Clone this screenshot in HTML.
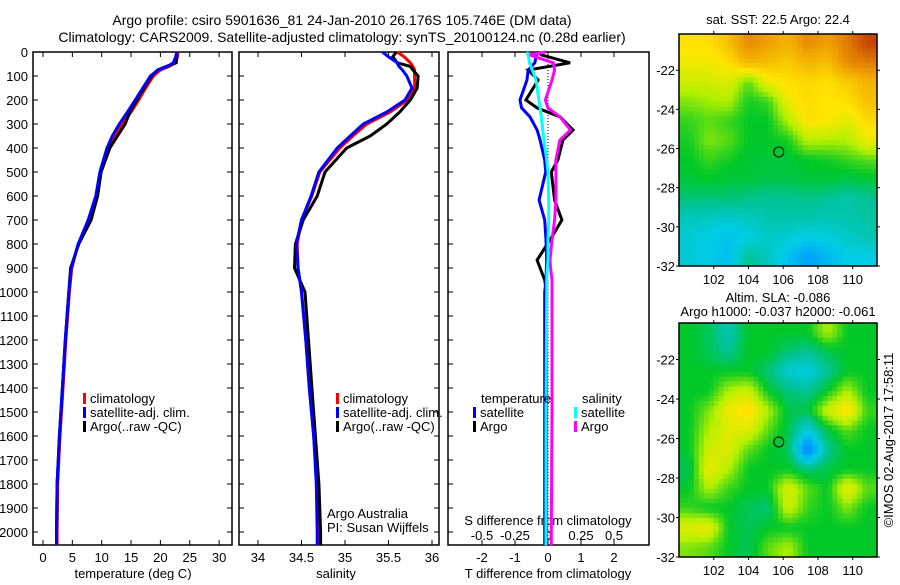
<!DOCTYPE html>
<html><head><meta charset="utf-8"><style>
body{margin:0;background:#fff;font-family:"Liberation Sans",sans-serif}
svg text{font-family:"Liberation Sans",sans-serif;font-size:13px;fill:#000}
</style></head><body>
<svg id="c" width="900" height="580" viewBox="0 0 900 580" xmlns="http://www.w3.org/2000/svg">
<rect width="900" height="580" fill="#fff"/>
<text x="342" y="25" text-anchor="middle" style="font-size:14px">Argo profile: csiro 5901636_81 24-Jan-2010 26.176S 105.746E (DM data)</text>
<text x="342" y="42" text-anchor="middle" style="font-size:14px">Climatology: CARS2009. Satellite-adjusted climatology: synTS_20100124.nc (0.28d earlier)</text>
</svg>
<script>
// ---- data ----
const depths=[0,20,45,60,75,100,150,200,250,300,350,400,500,600,700,800,900,1000,1200,1400,1600,1800,2000,2055];
const tClim=[23,22.9,22.6,21.5,20,18.8,17.5,16.3,15,13.4,12.2,11.1,9.8,9.1,7.8,6,4.9,4.5,3.9,3.4,2.9,2.5,2.4,2.4];
const tSat=[22.8,22.6,22.2,21.2,19.6,18.3,17,15.7,14.4,13,11.8,10.9,9.7,9,7.7,6,4.8,4.4,3.8,3.3,2.8,2.4,2.3,2.3];
const tArgo=[22.8,22.8,22.7,21,19.5,18.5,17.2,16,14.8,14,12.7,11.4,9.9,9.3,8.2,6.1,4.7,4.4,3.8,3.3,2.8,2.4,2.3,2.3];
const sClim=[35.6,35.68,35.75,35.78,35.8,35.8,35.8,35.72,35.52,35.25,35.09,34.94,34.71,34.62,34.5,34.45,34.46,34.5,34.55,34.59,34.64,34.68,34.69,34.7];
const sSat=[35.43,35.5,35.6,35.62,35.66,35.71,35.77,35.69,35.48,35.21,35.06,34.91,34.7,34.61,34.5,34.44,34.46,34.5,34.55,34.59,34.64,34.67,34.68,34.68];
const sArgo=[35.59,35.55,35.6,35.75,35.78,35.84,35.83,35.75,35.63,35.48,35.29,35.02,34.77,34.68,34.52,34.43,34.42,34.54,34.58,34.62,34.66,34.7,34.72,34.72];
const dDepths=[0,12,45,75,117,200,233,270,325,367,450,500,617,700,783,867,900,950,1000,1500,2000,2055];
const dtArgo=[-0.33,-0.2,0.67,-0.6,-0.3,-0.67,-0.33,0.36,0.76,0.45,0.3,0.1,0.2,0.42,0.06,-0.33,-0.24,-0.1,-0.05,-0.05,-0.05,-0.05];
const dtSat=[-0.33,-0.35,-0.4,-0.6,-0.64,-0.85,-0.8,-0.55,-0.33,-0.24,-0.1,-0.07,-0.27,-0.1,-0.06,-0.04,-0.05,-0.06,-0.1,-0.1,-0.1,-0.1];
const dsArgo=[-0.02,-0.14,0.04,0.05,0.03,-0.02,0,0.09,0.17,0.09,0.06,0.06,0.06,0.05,0.03,0.015,0.02,0.03,0.03,0.03,0.025,0.025];
const dsSat=[-0.16,-0.15,-0.14,-0.12,-0.09,-0.07,-0.06,-0.05,-0.04,-0.03,-0.01,0,0.005,0.005,0,0,-0.005,-0.01,-0.01,-0.015,-0.015,-0.015];
const depthTicks=[0,100,200,300,400,500,600,700,800,900,1000,1100,1200,1300,1400,1500,1600,1700,1800,1900,2000];
const tTicks=[0,5,10,15,20,25,30];
const sTicks=[34,34.5,35,35.5,36];
const dtTicks=[-2,-1,0,1,2];
const dsTicks=[-0.5,-0.25,0,0.25,0.5];
const latTicks=[-22,-24,-26,-28,-30,-32];
const lonTicks=[102,104,106,108,110];
const sstGrid=[
[0.65,0.65,0.7,0.78,0.75,0.72,0.78,0.75,0.8,0.88],
[0.62,0.62,0.65,0.72,0.7,0.68,0.72,0.7,0.78,0.8],
[0.58,0.58,0.6,0.5,0.62,0.65,0.66,0.65,0.68,0.72],
[0.52,0.54,0.55,0.46,0.48,0.62,0.66,0.64,0.65,0.7],
[0.48,0.5,0.48,0.45,0.45,0.55,0.65,0.64,0.6,0.66],
[0.46,0.52,0.5,0.45,0.45,0.46,0.56,0.55,0.55,0.62],
[0.45,0.48,0.46,0.44,0.44,0.44,0.45,0.46,0.48,0.5],
[0.44,0.45,0.44,0.44,0.43,0.43,0.44,0.44,0.43,0.44],
[0.4,0.4,0.4,0.39,0.38,0.38,0.39,0.38,0.36,0.38],
[0.34,0.34,0.33,0.34,0.36,0.36,0.36,0.35,0.36,0.37],
[0.32,0.3,0.28,0.3,0.33,0.32,0.3,0.31,0.33,0.35],
[0.32,0.3,0.27,0.38,0.34,0.28,0.22,0.26,0.3,0.3]];
const slaGrid=[
[0.45,0.42,0.35,0.45,0.45,0.45,0.45,0.55,0.45,0.45],
[0.45,0.42,0.38,0.45,0.45,0.4,0.38,0.42,0.45,0.45],
[0.45,0.45,0.45,0.45,0.4,0.32,0.3,0.38,0.45,0.45],
[0.45,0.45,0.55,0.58,0.45,0.4,0.38,0.45,0.55,0.45],
[0.45,0.52,0.62,0.66,0.55,0.43,0.43,0.58,0.66,0.48],
[0.45,0.55,0.6,0.6,0.5,0.43,0.3,0.43,0.5,0.45],
[0.45,0.58,0.6,0.5,0.45,0.42,0.15,0.38,0.45,0.45],
[0.42,0.62,0.55,0.45,0.45,0.45,0.4,0.43,0.45,0.45],
[0.45,0.55,0.48,0.45,0.45,0.6,0.5,0.45,0.62,0.5],
[0.48,0.45,0.45,0.42,0.4,0.58,0.48,0.45,0.52,0.45],
[0.6,0.62,0.45,0.42,0.45,0.45,0.45,0.45,0.45,0.45],
[0.52,0.5,0.45,0.42,0.5,0.55,0.45,0.45,0.45,0.45]];

// ---- helpers ----
const S=document.getElementById('c'),NS='http://www.w3.org/2000/svg';
function el(t,a,p){const e=document.createElementNS(NS,t);for(const k in a)e.setAttribute(k,a[k]);(p||S).appendChild(e);return e;}
function txt(x,y,s,anchor,name){const e=el('text',{x:x,y:y,'text-anchor':anchor||'start'});e.textContent=s;


return e;}
const Y=d=>52+d*0.24;
const PB=545;
function box(x0,x1,y0,y1,name){const r=el('rect',{x:x0,y:y0,width:x1-x0,height:y1-y0,fill:'none',stroke:'#000','stroke-width':1.5});

}
function line(vals,ds,X,col,name){const pts=vals.map((v,i)=>X(v).toFixed(1)+','+Y(ds[i]).toFixed(1)).join(' ');
const p=el('polyline',{points:pts,fill:'none',stroke:col,'stroke-width':3});

}
function xTicks(ticks,X,y,labY,fmt,nm){ticks.forEach(t=>{el('line',{x1:X(t),x2:X(t),y1:y,y2:y-5,stroke:'#000'});el('line',{x1:X(t),x2:X(t),y1:52,y2:57,stroke:'#000'});txt(X(t),labY,fmt?fmt(t):String(t),'middle',nm);});}

// panel 1 temperature
const XT=v=>43+v*5.87;
box(33,232,52,PB,'temperature-panel');
depthTicks.forEach(d=>{el('line',{x1:33,x2:38,y1:Y(d),y2:Y(d),stroke:'#000'});el('line',{x1:232,x2:227,y1:Y(d),y2:Y(d),stroke:'#000'});txt(28,Y(d)+5,String(d),'end','depth-tick-label');});
xTicks(tTicks,XT,PB,562,null,'temperature-tick-label');
txt(133,578,'temperature (deg C)','middle','temperature-axis-title');
line(tClim,depths,XT,'#f00','temp-climatology-line');
line(tArgo,depths,XT,'#000','temp-argo-line');
line(tSat,depths,XT,'#00f','temp-satellite-line');
// panel 2 salinity
const XS=v=>258+(v-34)*87;
box(239,439,52,PB,'salinity-panel');
depthTicks.forEach(d=>{el('line',{x1:239,x2:244,y1:Y(d),y2:Y(d),stroke:'#000'});el('line',{x1:439,x2:434,y1:Y(d),y2:Y(d),stroke:'#000'});});
xTicks(sTicks,XS,PB,562,null,'salinity-tick-label');
txt(336,578,'salinity','middle','salinity-axis-title');
line(sClim,depths,XS,'#f00','sal-climatology-line');
line(sArgo,depths,XS,'#000','sal-argo-line');
line(sSat,depths,XS,'#00f','sal-satellite-line');
txt(327,518,'Argo Australia','start','agency-label');
txt(327,532,'PI: Susan Wijffels','start','pi-label');
function legend(x,y,items,nm){items.forEach((it,i)=>{const r=el('rect',{x:x,y:y+i*14-10,width:3,height:11,fill:it[0]});


txt(x+7,y+i*14,it[1],'start',nm+'-label');});}
const leg=[['#f00','climatology'],['#00f','satellite-adj. clim.'],['#000','Argo(..raw -QC)']];
legend(83,403,leg,'temp-legend');legend(336,403,leg,'sal-legend');
// panel 3 differences
const XD=v=>548+v*33, XDS=v=>548+v*132;
box(448,649,52,PB,'difference-panel');
depthTicks.forEach(d=>{el('line',{x1:448,x2:453,y1:Y(d),y2:Y(d),stroke:'#000'});});
el('line',{x1:548,x2:548,y1:52,y2:PB,stroke:'#000','stroke-dasharray':'1,2'});
xTicks(dtTicks,XD,PB,562,null,'t-diff-tick-label');
dsTicks.forEach(t=>txt(XDS(t),540,String(t),'middle','s-diff-tick-label'));
txt(548,525,'S difference from climatology','middle','s-diff-axis-title');
txt(548,578,'T difference from climatology','middle','t-diff-axis-title');
line(dtArgo,dDepths,XD,'#000','t-diff-argo-line');
line(dtSat,dDepths,XD,'#00f','t-diff-satellite-line');
line(dsArgo,dDepths,XDS,'#f0f','s-diff-argo-line');
line(dsSat,dDepths,XDS,'#0ff','s-diff-satellite-line');
txt(481,403,'temperature','start','diff-legend-temperature-heading');
txt(582,403,'salinity','start','diff-legend-salinity-heading');
legend(473,417,[['#00f','satellite'],['#000','Argo']],'diff-legend-temp');
legend(574,417,[['#0ff','satellite'],['#f0f','Argo']],'diff-legend-sal');
// maps
const stops=[[0,[0,90,255]],[0.2,[0,150,255]],[0.3,[0,205,230]],[0.38,[0,195,150]],[0.45,[0,200,40]],[0.55,[180,240,0]],[0.64,[255,230,0]],[0.75,[240,160,0]],[0.88,[200,70,0]],[1,[150,30,0]]];
function cmap(t){for(let i=1;i<stops.length;i++){if(t<=stops[i][0]){const a=stops[i-1],b=stops[i],f=(t-a[0])/(b[0]-a[0]);return 'rgb('+a[1].map((c,k)=>Math.round(c+(b[1][k]-c)*f)).join(',')+')';}}return 'rgb(150,30,0)';}
function sample(grid,fy,fx){const R=grid.length,C=grid[0].length;
const y=Math.min(Math.max(fy-0.5,0),R-1),x=Math.min(Math.max(fx-0.5,0),C-1);
const r0=Math.floor(y),c0=Math.floor(x),r1=Math.min(r0+1,R-1),c1=Math.min(c0+1,C-1),dy=y-r0,dx=x-c0;
return grid[r0][c0]*(1-dy)*(1-dx)+grid[r0][c1]*(1-dy)*dx+grid[r1][c0]*dy*(1-dx)+grid[r1][c1]*dy*dx;}
function map(grid,y0,y1,nm){const x0=679,x1=877,rows=grid.length,cols=grid[0].length,SUB=4,cw=(x1-x0)/cols/SUB,ch=(y1-y0)/rows/SUB;
for(let r=0;r<rows*SUB;r++)for(let c=0;c<cols*SUB;c++){const v=sample(grid,(r+0.5)/SUB,(c+0.5)/SUB);
const e=el('rect',{x:(x0+c*cw).toFixed(2),y:(y0+r*ch).toFixed(2),width:(cw+0.4).toFixed(2),height:(ch+0.4).toFixed(2),fill:cmap(v)});

}
box(x0,x1,y0,y1,nm+'-frame');
const LY=l=>y0+(-20.15-l)*(y1-y0)/11.85, LX=l=>x0+(l-100)*(x1-x0)/11.4;
latTicks.forEach(l=>{el('line',{x1:x0,x2:x0-3,y1:LY(l),y2:LY(l),stroke:'#000'});el('line',{x1:x1,x2:x1+3,y1:LY(l),y2:LY(l),stroke:'#000'});txt(x0-4,LY(l)+5,String(l),'end',nm+'-lat-label');});
lonTicks.forEach(l=>{el('line',{x1:LX(l),x2:LX(l),y1:y0,y2:y0-3,stroke:'#000'});el('line',{x1:LX(l),x2:LX(l),y1:y1,y2:y1+3,stroke:'#000'});txt(LX(l),y1+18,String(l),'middle',nm+'-lon-label');});
const ci=el('circle',{cx:LX(105.746),cy:LY(-26.176),r:5,fill:'none',stroke:'#000','stroke-width':1});

}
map(sstGrid,34,266,'sst-map');
map(slaGrid,323,557,'sla-map');
txt(778,24,'sat. SST: 22.5 Argo: 22.4','middle','sst-map-title');
txt(778,302,'Altim. SLA: -0.086','middle','sla-map-title-1');
txt(778,316,'Argo h1000: -0.037 h2000: -0.061','middle','sla-map-title-2');
const cr=txt(0,0,'©IMOS 02-Aug-2017 17:58:11','middle','copyright-label');
cr.setAttribute('transform','translate(893,440) rotate(-90)');
</script>
</body></html>
